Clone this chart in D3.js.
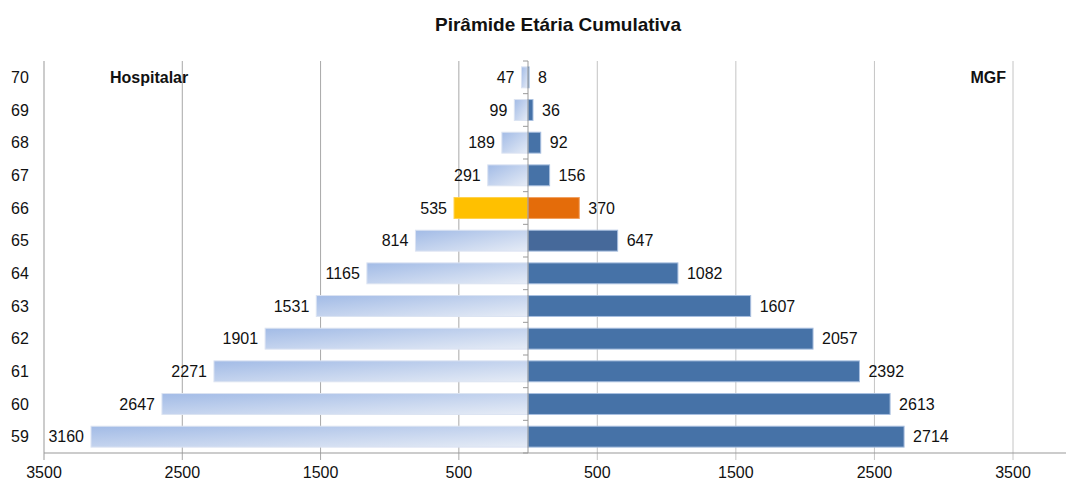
<!DOCTYPE html>
<html>
<head>
<meta charset="utf-8">
<script src="https://cdn.jsdelivr.net/npm/d3@7"></script>
<style>
  body { margin: 0; background: #fff; }
  text { font-family: "Liberation Sans Narrow", "Arial Narrow", "Liberation Sans", sans-serif; fill: #111; }
</style>
</head>
<body>
<div id="chart"></div>
<script>
// ages from top to bottom
const ages = [70, 69, 68, 67, 66, 65, 64, 63, 62, 61, 60, 59];
const hospitalar = [47, 99, 189, 291, 535, 814, 1165, 1531, 1901, 2271, 2647, 3160];
const mgf = [8, 36, 92, 156, 370, 647, 1082, 1607, 2057, 2392, 2613, 2714];
const xTicks = [500, 1500, 2500, 3500];
const highlightAge = 66;
const darkAge = 65;

const width = 1067, height = 485;
const center = 528;
const plotTop = 61, plotBottom = 453;

const svg = d3.select('#chart').append('svg')
    .attr('width', width)
    .attr('height', height);

const defs = svg.append('defs');
const grad = defs.append('linearGradient')
    .attr('id', 'leftGrad')
    .attr('x1', 0).attr('y1', 0).attr('x2', 1).attr('y2', 1);
grad.append('stop').attr('offset', '0%').attr('stop-color', '#a2bbe6');
grad.append('stop').attr('offset', '100%').attr('stop-color', '#e6ecf6');

const xLeft = d3.scaleLinear().domain([0, 3500]).range([center, 44]);
const xRight = d3.scaleLinear().domain([0, 3500]).range([center, 1013]);

const y = d3.scaleBand()
    .domain(ages)
    .range([plotTop, plotBottom])
    .paddingInner(0.36)
    .paddingOuter(0.18);

// title
svg.append('text')
    .attr('x', 558).attr('y', 31)
    .attr('text-anchor', 'middle')
    .style('font-size', '19px')
    .style('font-weight', 'bold')
    .text('Pirâmide Etária Cumulativa');

// gridlines
svg.append('g')
    .selectAll('line')
    .data(xTicks.filter(d => d < 3500))
    .join('line')
    .attr('x1', d => xLeft(d)).attr('x2', d => xLeft(d))
    .attr('y1', plotTop).attr('y2', plotBottom + 7)
    .attr('stroke', '#a8a8a8');

svg.append('g')
    .selectAll('line')
    .data(xTicks)
    .join('line')
    .attr('x1', d => xRight(d)).attr('x2', d => xRight(d))
    .attr('y1', plotTop).attr('y2', plotBottom + 7)
    .attr('stroke', '#c4c4c4');

// axis lines
svg.append('line')
    .attr('x1', 44).attr('x2', 44)
    .attr('y1', plotTop).attr('y2', plotBottom + 7)
    .attr('stroke', '#999');
svg.append('line')
    .attr('x1', 44).attr('x2', 1066)
    .attr('y1', plotBottom).attr('y2', plotBottom)
    .attr('stroke', '#999');

// x tick labels
const tickLabels = xTicks.map(d => ({ v: d, x: xLeft(d) }))
    .concat(xTicks.map(d => ({ v: d, x: xRight(d) })));
svg.append('g')
    .selectAll('text')
    .data(tickLabels)
    .join('text')
    .attr('x', d => d.x)
    .attr('y', 478)
    .attr('text-anchor', 'middle')
    .style('font-size', '16px')
    .text(d => d.v);

// y labels
svg.append('g')
    .selectAll('text')
    .data(ages)
    .join('text')
    .attr('x', 20)
    .attr('y', d => y(d) + y.bandwidth() / 2)
    .attr('dy', '0.35em')
    .attr('text-anchor', 'middle')
    .style('font-size', '16px')
    .text(d => d);

// left bars
svg.append('g')
    .selectAll('rect')
    .data(ages)
    .join('rect')
    .attr('x', (d, i) => xLeft(hospitalar[i]))
    .attr('y', d => y(d))
    .attr('width', (d, i) => center - xLeft(hospitalar[i]))
    .attr('height', y.bandwidth())
    .attr('fill', d => d === highlightAge ? '#ffc000' : 'url(#leftGrad)')
    .attr('stroke', d => d === highlightAge ? '#ffd24d' : '#dbe3f2')
    .attr('stroke-width', 1);

// right bars
svg.append('g')
    .selectAll('rect')
    .data(ages)
    .join('rect')
    .attr('x', center)
    .attr('y', d => y(d))
    .attr('width', (d, i) => xRight(mgf[i]) - center)
    .attr('height', y.bandwidth())
    .attr('fill', d => d === highlightAge ? '#e46c0a' : d === darkAge ? '#46699a' : '#4672a7')
    .attr('stroke', d => d === highlightAge ? '#f0a060' : '#a8bfdf')
    .attr('stroke-width', 1);

// center axis with ticks between categories
svg.append('line')
    .attr('x1', center).attr('x2', center)
    .attr('y1', plotTop).attr('y2', plotBottom)
    .attr('stroke', '#999');
const step = y.step();
svg.append('g')
    .selectAll('line')
    .data(d3.range(ages.length + 1))
    .join('line')
    .attr('x1', center - 5).attr('x2', center)
    .attr('y1', i => plotTop + i * step)
    .attr('y2', i => plotTop + i * step)
    .attr('stroke', '#999');

// value labels
svg.append('g')
    .selectAll('text')
    .data(ages)
    .join('text')
    .attr('x', (d, i) => xLeft(hospitalar[i]) - 7)
    .attr('y', d => y(d) + y.bandwidth() / 2)
    .attr('dy', '0.35em')
    .attr('text-anchor', 'end')
    .style('font-size', '16px')
    .text((d, i) => hospitalar[i]);

svg.append('g')
    .selectAll('text')
    .data(ages)
    .join('text')
    .attr('x', (d, i) => xRight(mgf[i]) + 9)
    .attr('y', d => y(d) + y.bandwidth() / 2)
    .attr('dy', '0.35em')
    .attr('text-anchor', 'start')
    .style('font-size', '16px')
    .text((d, i) => mgf[i]);

// series names
svg.append('text')
    .attr('x', 110).attr('y', 83)
    .style('font-size', '16px')
    .style('font-weight', 'bold')
    .text('Hospitalar');
svg.append('text')
    .attr('x', 1006).attr('y', 83)
    .attr('text-anchor', 'end')
    .style('font-size', '16px')
    .style('font-weight', 'bold')
    .text('MGF');
</script>
</body>
</html>
